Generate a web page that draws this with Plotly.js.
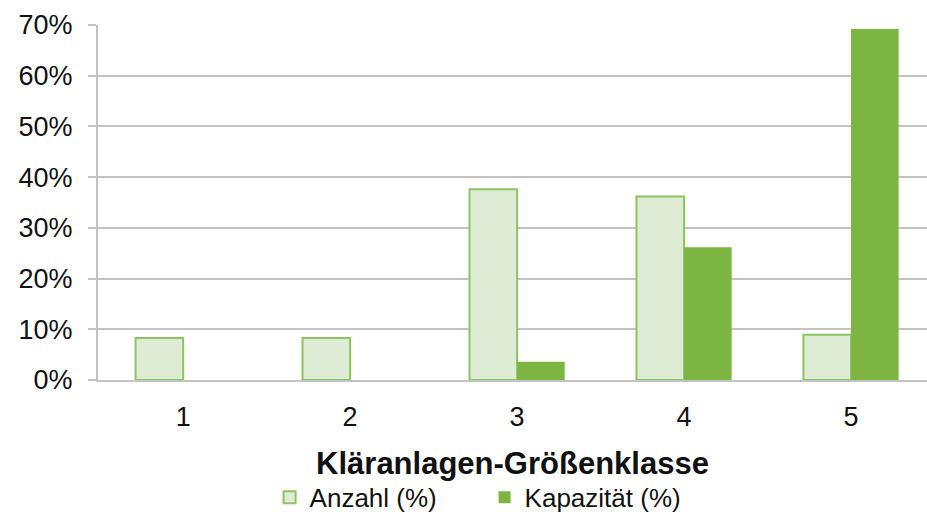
<!DOCTYPE html>
<html>
<head>
<meta charset="utf-8">
<script src="https://cdn.plot.ly/plotly-3.0.1.min.js"></script>
<style>
  html, body { margin: 0; padding: 0; background: #fff; overflow: hidden; }
  #chart { width: 927px; height: 521px; }
</style>
</head>
<body>
<div id="chart"></div>
<script>
// Größenklassen und Anteile
const klassen = ["1", "2", "3", "4", "5"];
const anzahl = [8.3, 8.3, 37.6, 36.2, 8.9];
const kapazitaet = [0, 0, 3.6, 26.2, 69.2];
const yTicks = [0, 10, 20, 30, 40, 50, 60, 70];
const yTickText = ["0%", "10%", "20%", "30%", "40%", "50%", "60%", "70%"];

function zeichne() {
    let anzahlTrace = {
        x: klassen,
        y: anzahl,
        type: "bar",
        name: "Anzahl (%)",
        marker: { color: "#deecd5", line: { color: "#8cc560", width: 2 } }
    };
    let kapTrace = {
        x: klassen,
        y: kapazitaet,
        type: "bar",
        name: "Kapazität (%)",
        marker: { color: "#7cb542", line: { width: 0 } }
    };

    // etwas höher als das Fenster, damit die Legende ganz unten sitzen kann
    let layout = {
        width: 927,
        height: 521,
        margin: { l: 98, r: 0, t: 25, b: 141 },
        paper_bgcolor: "#ffffff",
        plot_bgcolor: "#ffffff",
        font: { family: "Liberation Sans, Arial, sans-serif", color: "#111111", size: 28 },
        barmode: "group",
        bargap: 0.43,
        bargroupgap: 0,
        showlegend: true,
        legend: {
            orientation: "h",
            x: 0.207, xanchor: "left",
            y: -0.397, yanchor: "bottom",
            font: { size: 26 },
            itemwidth: 30,
            entrywidth: 170,
            entrywidthmode: "pixels",
            traceorder: "normal"
        },
        xaxis: {
            type: "category",
            range: [-0.51, 4.455],
            automargin: false,
            showline: true,
            linecolor: "#c3c3c3",
            linewidth: 2,
            ticks: "",
            ticklabelstandoff: 12,
            showgrid: false,
            tickfont: { size: 27 },
            title: { text: "<b>Kläranlagen-Größenklasse</b>", font: { size: 31 }, standoff: 21 }
        },
        yaxis: {
            range: [0, 70],
            automargin: false,
            tickvals: yTicks,
            ticktext: yTickText,
            showline: true,
            linecolor: "#c3c3c3",
            linewidth: 2,
            ticks: "outside",
            ticklen: 8,
            tickwidth: 2,
            tickcolor: "#c3c3c3",
            ticklabelstandoff: 10,
            gridcolor: "#c3c3c3",
            gridwidth: 2,
            zeroline: false,
            tickfont: { size: 27 }
        }
    };

    Plotly.newPlot("chart", [anzahlTrace, kapTrace], layout, { displayModeBar: false, staticPlot: true });
}

zeichne();
</script>
</body>
</html>
